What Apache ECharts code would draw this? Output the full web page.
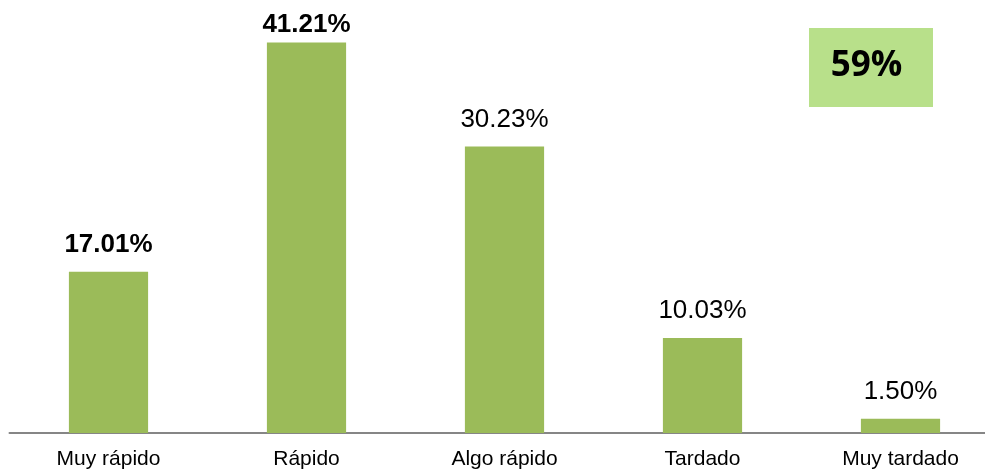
<!DOCTYPE html>
<html>
<head>
<meta charset="UTF-8">
<title>Velocidad</title>
<script src="https://cdn.jsdelivr.net/npm/echarts@6/dist/echarts.min.js"></script>
<style>
  html, body { margin: 0; padding: 0; background: #fff; }
  #main { width: 985px; height: 473px; }
</style>
</head>
<body>
<div id="main"></div>
<script>
var categorias = ['Muy rápido', 'Rápido', 'Algo rápido', 'Tardado', 'Muy tardado'];
var valores = [17.01, 41.21, 30.23, 10.03, 1.50];
var negritas = [true, true, false, false, false];
var resumen = '59%';

var chart = echarts.init(document.getElementById('main'));

// the tallest label sits squeezed against the top edge in the original
var datos = valores.map(function (v, i) {
    return {
        value: v,
        label: {
            fontWeight: negritas[i] ? 'bold' : 'normal',
            distance: i === 1 ? 5 : 14
        }
    };
});

var option = {
    animation: false,
    grid: { left: 9.5, width: 990, top: 0, bottom: 40, outerBoundsMode: 'none', containLabel: false },
    xAxis: {
        type: 'category',
        data: categorias,
        axisLine: { lineStyle: { color: '#868686', width: 2 } },
        axisTick: { show: false },
        axisLabel: {
            color: '#000',
            fontSize: 21,
            fontFamily: 'Liberation Sans, Arial',
            margin: 16
        }
    },
    yAxis: {
        type: 'value',
        min: 0,
        max: 45.7,
        show: false,
        splitLine: { show: false }
    },
    series: [{
        type: 'bar',
        data: datos,
        barWidth: '40%',
        itemStyle: { color: '#9BBB59' },
        label: {
            show: true,
            position: 'top',
            color: '#000',
            fontSize: 26,
            fontFamily: 'Liberation Sans, Arial',
            formatter: function (p) { return p.value.toFixed(2) + '%'; }
        }
    }],
    graphic: [{
        type: 'rect',
        left: 809,
        top: 28,
        shape: { width: 124, height: 79 },
        style: { fill: '#B8E08A' }
    }, {
        type: 'text',
        x: 866.5,
        y: 66,
        style: {
            text: resumen,
            fill: '#000',
            align: 'center',
            verticalAlign: 'middle',
            font: 'bold 35px "Open Sans", "Noto Sans", sans-serif'
        }
    }]
};

chart.setOption(option);
</script>
</body>
</html>
